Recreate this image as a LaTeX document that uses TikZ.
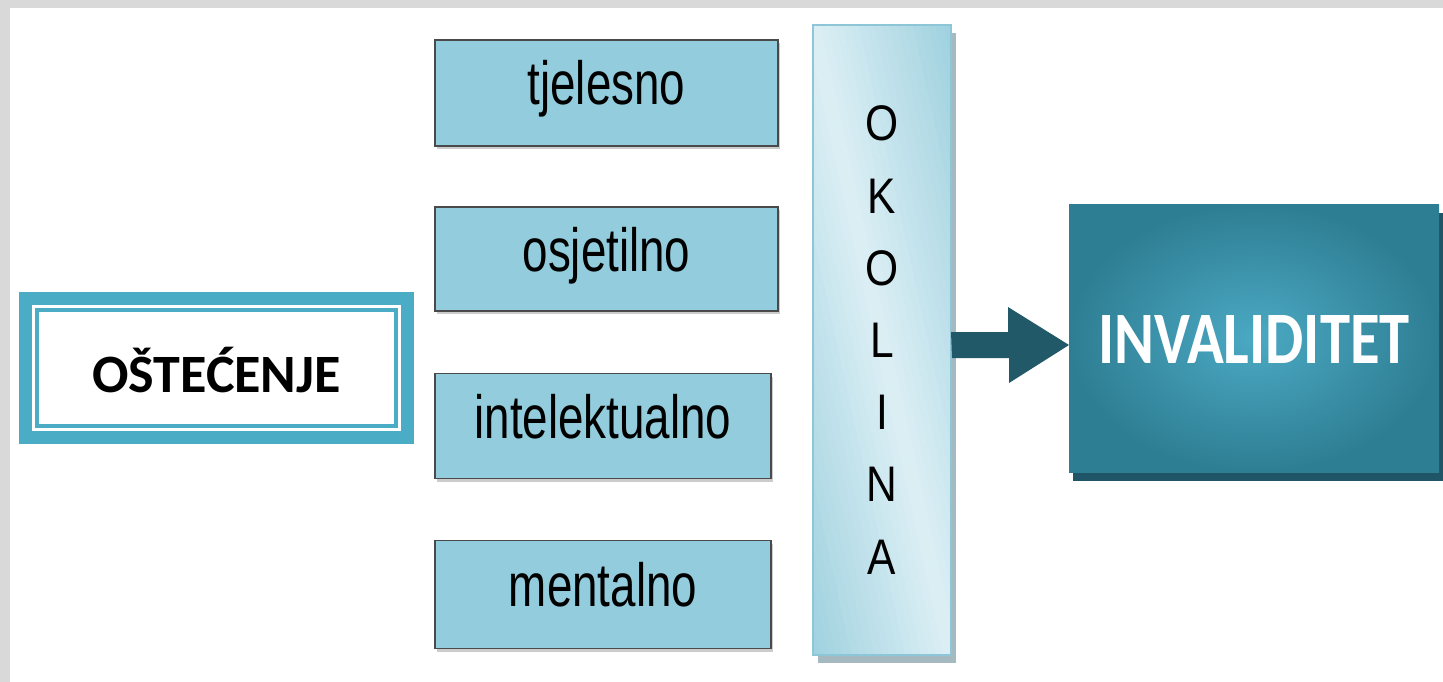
\documentclass[tikz,border=0pt]{standalone}
\usepackage{fontspec}
\usetikzlibrary{calc,shadows}
\pgfdeclarelayer{bg}
\pgfsetlayers{bg,main}
\newfontfamily\arn[FakeStretch=0.75]{Liberation Sans}
\newfontfamily\okf[FakeStretch=0.85]{Liberation Sans}
\newfontfamily\calf{Carlito}
\newfontfamily\calinv[FakeStretch=0.82]{Carlito}
\definecolor{frameg}{HTML}{D9D9D9}
\definecolor{lbox}{HTML}{93CDDD}
\definecolor{bordc}{HTML}{4A4A4A}
\definecolor{ostc}{HTML}{4BACC6}
\definecolor{invin}{HTML}{4BA9C3}
\definecolor{invout}{HTML}{2E7E93}
\definecolor{invsh}{HTML}{1F5567}
\definecolor{arrc}{HTML}{215968}
\definecolor{okedge}{HTML}{93CCDB}
\definecolor{oklight}{HTML}{DDEFF5}
\definecolor{okbord}{HTML}{8CC6D7}
\definecolor{oksh}{HTML}{A5B9C1}
\begin{document}
\begin{tikzpicture}[x=1pt,y=-1pt,
  every node/.style={outer sep=0pt,inner sep=0pt},
  kindbox/.style={fill=lbox,draw=bordc,line width=1.6pt,
    font=\arn\fontsize{61}{70}\selectfont,text height=36pt,text depth=12pt,
    drop shadow={shadow xshift=2pt,shadow yshift=-3pt,fill=gray!40,opacity=1}},
  okbox/.style={draw=okbord,line width=1.5pt,
    font=\okf\fontsize{50}{72.2}\selectfont,align=center},
  invbox/.style={shading=radial,inner color=invin,outer color=invout,
    font=\calinv\bfseries\fontsize{74}{80}\selectfont,text=white,text height=50pt,text depth=0pt,
    drop shadow={shadow xshift=4pt,shadow yshift=-9pt,fill=invsh,opacity=1}},
  ostbox/.style={draw=ostc,line width=13pt,fill=white,
    font=\calf\bfseries\fontsize{54}{60}\selectfont,text height=50pt,text depth=0pt},
  arrowc/.style={fill=arrc}
]
\useasboundingbox (0,0) rectangle (1443,682);
\begin{pgfonlayer}{bg}
\fill[frameg] (0,0) rectangle (1443,682);
\fill[white] (10,8) rectangle (1443,682);
\end{pgfonlayer}

\node[ostbox,minimum width=382pt,minimum height=139pt] (ost) at (216.5,367.5) {OŠTEĆENJE};
\draw[ostc,line width=4pt] ([shift={(11.5,11.5)}]ost.north west) rectangle ([shift={(-11.5,-11.5)}]ost.south east);

\node[kindbox,minimum width=343pt,minimum height=106pt] (tj) at (606.5,93) {tjelesno};
\node[kindbox,minimum width=343pt,minimum height=104pt] (os) at (606.5,259) {osjetilno};
\node[kindbox,minimum width=336pt,minimum height=105pt] (in) at (603,426) {intelektualno};
\node[kindbox,minimum width=336pt,minimum height=108pt] (me) at (603,594.5) {mentalno};

\node[okbox,minimum width=138pt,minimum height=630pt] (ok) at (882,340) {O\\K\\O\\L\\I\\N\\A};
\begin{pgfonlayer}{bg}
  \fill[oksh] ([shift={(5,8)}]ok.north west) rectangle ([shift={(5,8)}]ok.south east);
  \begin{scope}
    \clip (ok.north west) rectangle (ok.south east);
    \fill[okedge] (ok.north west) rectangle (ok.south east);
    \foreach \i in {-20,...,19}{
      \pgfmathsetmacro\f{min(100,abs(\i*7.5+3.75)/1.6)}
      \fill[okedge!\f!oklight,rotate around={12.36:(882,340)}]
        (882+\i*7.5,-60) rectangle (882+\i*7.5+7.9,740);
    }
  \end{scope}
\end{pgfonlayer}

\node[invbox,minimum width=370pt,minimum height=268pt] (inv) at (1254,338) {INVALIDITET};

\coordinate (tip) at ([yshift=-7pt]inv.west);
\fill[arrowc] (ok.east |- tip) ++(0,-13) -- ++(57,0) -- ++(0,-25) -- (tip)
  -- ++(-60,38) -- ++(0,-25) -- ++(-57,0) -- cycle;
\end{tikzpicture}
\end{document}
